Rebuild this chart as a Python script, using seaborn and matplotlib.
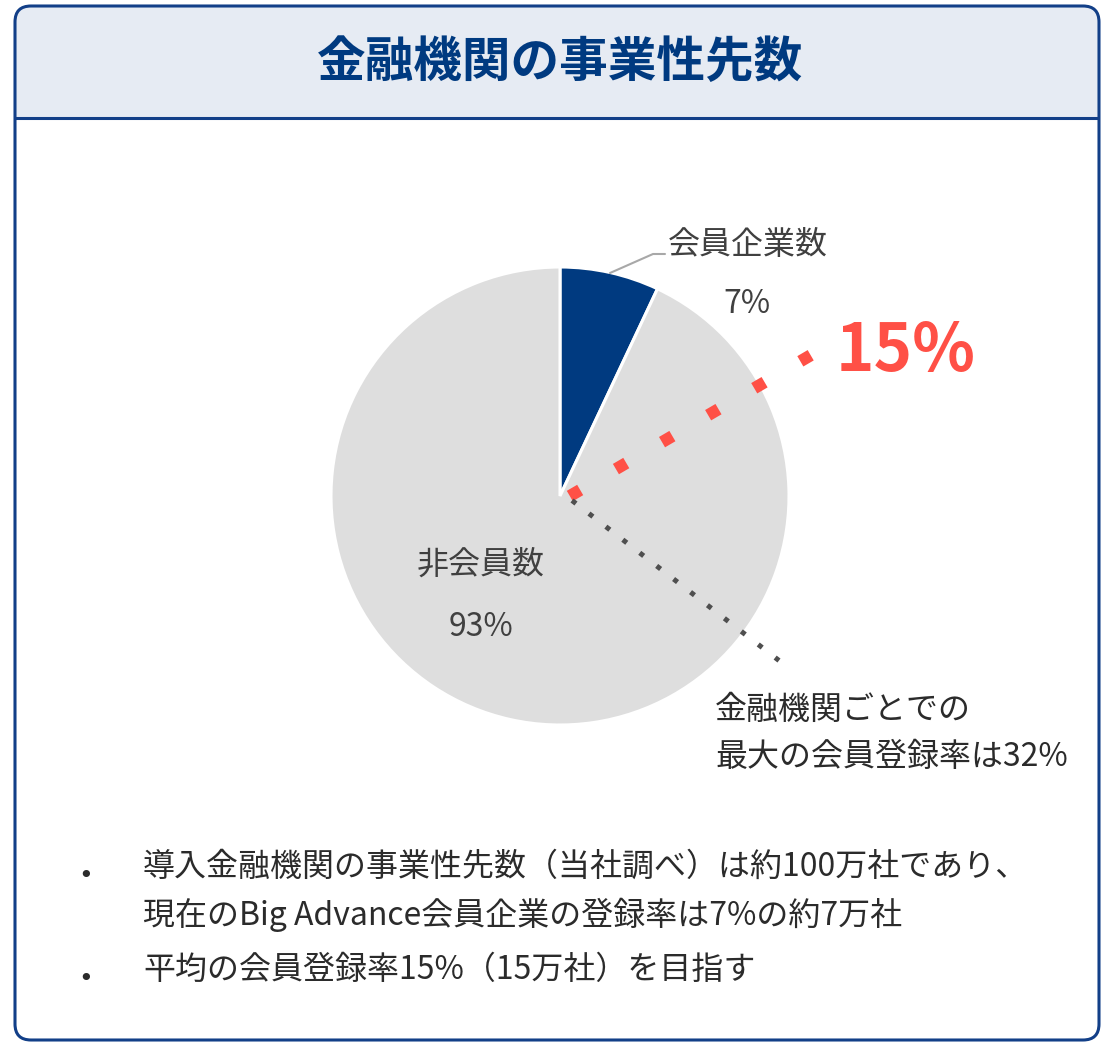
import matplotlib
matplotlib.use("Agg")
import numpy as np
import matplotlib.pyplot as plt
from matplotlib.patches import FancyBboxPatch, Rectangle
import seaborn as sns

# ---- data -------------------------------------------------------------
title = "金融機関の事業性先数"
segment_names = ["会員企業数", "非会員数"]
segment_shares = [7, 93]            # percent of business partners
target_share = 15                    # average registration target (%)
max_share_text = ["金融機関ごとでの", "最大の会員登録率は32%"]
notes = [
    ["導入金融機関の事業性先数（当社調べ）は約100万社であり、",
     "現在のBig Advance会員企業の登録率は7%の約7万社"],
    ["平均の会員登録率15%（15万社）を目指す"],
]

# ---- style ------------------------------------------------------------
sns.set_theme(style="white")
plt.rcParams["font.family"] = ["Noto Sans CJK JP", "DejaVu Sans"]

NAVY = "#003a80"
GREY = "#dedede"
RED = "#ff5046"
BORDER = "#123f88"
HEADER_BG = "#e6ebf3"
TEXT = "#404040"
BODY = "#2b2b2b"

W, H = 1114, 1046
fig = plt.figure(figsize=(W / 100, H / 100), dpi=100)
ax = fig.add_axes([0, 0, 1, 1])

# ---- card frame with header band -------------------------------------
card = FancyBboxPatch((15, 6), W - 30, H - 12,
                      boxstyle="round,pad=0,rounding_size=16",
                      fc="white", ec="none", zorder=0)
ax.add_patch(card)
header = Rectangle((15, 6), W - 30, 112, fc=HEADER_BG, ec="none", zorder=1)
ax.add_patch(header)
header.set_clip_path(card)
ax.plot([15, W - 15], [118, 118], color=BORDER, lw=2.2, zorder=2,
        solid_capstyle="butt")
ax.add_patch(FancyBboxPatch((15, 6), W - 30, H - 12,
                            boxstyle="round,pad=0,rounding_size=16",
                            fc="none", ec=BORDER, lw=2.2, zorder=10))
ax.text(560, 62, title, ha="center", va="center", fontsize=35,
        fontweight="bold", color=NAVY, zorder=3)

# ---- pie ------------------------------------------------------------
cx, cy, R = 560, 496, 229
ax.pie(segment_shares, colors=[NAVY, GREY], startangle=-90, counterclock=True,
       center=(cx, cy), radius=R, frame=True,
       wedgeprops=dict(edgecolor="white", linewidth=2.2, zorder=4))

# leader to member label
ax.plot([610, 653, 665], [273, 254, 254], color="#a8a8a8", lw=1.5, zorder=5)
label_kw = dict(ha="center", va="center", fontsize=23, color=TEXT, zorder=7)
ax.text(748, 245, segment_names[0], **label_kw)
ax.text(747, 304, f"{segment_shares[0]}%", **label_kw)
ax.text(481, 565, segment_names[1], **label_kw)
ax.text(481, 627, f"{segment_shares[1]}%", **label_kw)


def guide(first, last, lw_px, period_px, color):
    """Dotted guide from the centre of the first dot to the last one."""
    p0 = np.array([cx + first[0], cy + first[1]], float)
    p1 = np.array([cx + last[0], cy + last[1]], float)
    d = (p1 - p0) / np.linalg.norm(p1 - p0)
    a = p0 - d * lw_px / 2
    b = p1 + d * lw_px / 2
    lw_pt = lw_px * 0.72
    gap = (period_px - lw_px) / lw_px
    ax.plot([a[0], b[0]], [a[1], b[1]], color=color, lw=lw_pt,
            linestyle=(0, (1, gap)), dash_capstyle="butt", zorder=6)


# target (average registration) and best-case guides
guide((15, -3), (246, -138), 12, 53.4, RED)
guide((14, 6), (217, 163), 5, 21.4, "#4f4f4f")

ax.text(836, 352, f"{target_share}%", ha="left", va="center",
        fontsize=47, fontweight="bold", color=RED, zorder=7)
for i, line in enumerate(max_share_text):
    ax.text(715, 710 + 47 * i, line, ha="left", va="center",
            fontsize=23, color=BODY, zorder=7)

# ---- notes ------------------------------------------------------------
y = 867
for block in notes:
    ax.text(86, y + 9, "•", ha="center", va="center", fontsize=18,
            color=BODY, family="DejaVu Sans", zorder=7)
    for line in block:
        ax.text(143, y, line, ha="left", va="center", fontsize=23,
                color=BODY, zorder=7)
        y += 48
    y += 7

ax.set_xlim(0, W)
ax.set_ylim(H, 0)
ax.set_aspect("equal")
ax.axis("off")
fig.savefig("out.png", dpi=100)
